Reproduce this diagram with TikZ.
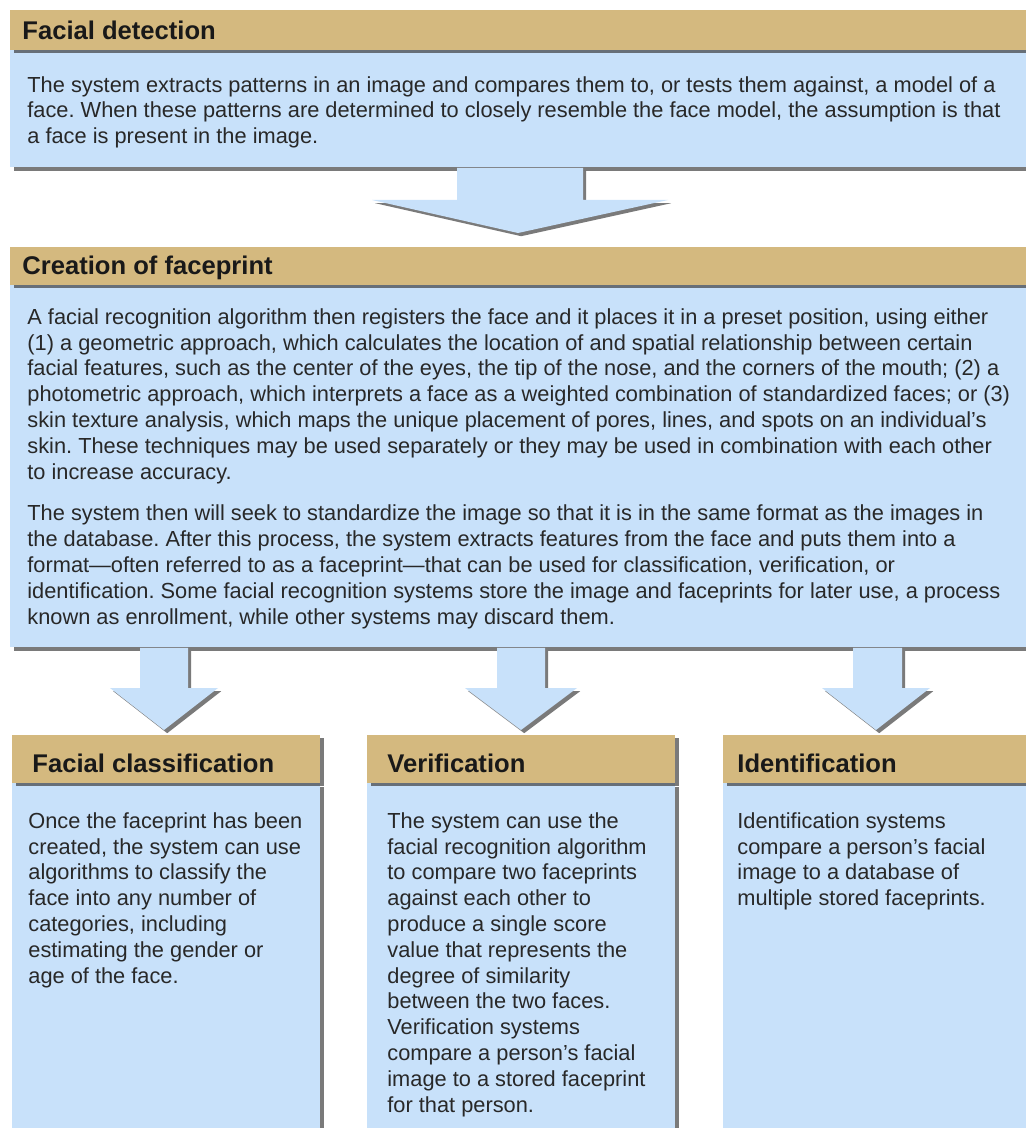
\documentclass[tikz,border=0pt]{standalone}
\usepackage{fontspec}
\setmainfont{Liberation Sans}
\usetikzlibrary{positioning,calc,shadows}
\frenchspacing

\definecolor{headtan}{RGB}{212,185,127}
\definecolor{bodyblue}{RGB}{200,225,250}
\definecolor{inktext}{RGB}{40,40,40}

\tikzset{
  boxshadow/.style={drop shadow={shadow xshift=1.6pt,shadow yshift=-1.6pt,fill=black!80,opacity=.65}},
  bodybox/.style={fill=bodyblue,inner sep=0pt,boxshadow},
  headbar/.style={fill=headtan,inner sep=0pt,boxshadow},
  titletext/.style={font=\bfseries\fontsize{12.8}{15}\selectfont,text=black!90,anchor=base west,inner sep=0pt},
  bodytext/.style={font=\fontsize{10.9}{12.9}\selectfont,text=inktext,align=left,anchor=north west,inner sep=0pt},
  arrowfill/.style={fill=bodyblue,boxshadow}
}

\begin{document}
\begin{tikzpicture}[x=0.5pt,y=-0.5pt]
  \useasboundingbox (0,0) rectangle (1026,1128);
  \clip (0,0) rectangle (1026,1128);
  \fill[white] (0,0) rectangle (1026,1128);

  % facial detection
  \node[bodybox,anchor=north west,minimum width=515pt,minimum height=58.5pt] (detect) at (10,50) {};
  \node[headbar,minimum width=515pt,minimum height=20pt,above=0pt of detect] (detecthead) {};
  \node[titletext] (detecttitle) at ($(detecthead.north west)+(12,30)$) {Facial detection};
  \node[bodytext] (detecttext) at ($(detect.north west)+(17,26)$) {The system extracts patterns in an image and compares them to, or tests them against, a model of a\\
face. When these patterns are determined to closely resemble the face model, the assumption is that\\
a face is present in the image.};

  % creation of faceprint
  \node[bodybox,anchor=north west,minimum width=515pt,minimum height=181pt] (create) at (10,285) {};
  \node[headbar,minimum width=515pt,minimum height=19pt,above=0pt of create] (createhead) {};
  \node[titletext] (createtitle) at ($(createhead.north west)+(12,28)$) {Creation of faceprint};
  \node[bodytext] (createtext) at ($(create.north west)+(17,23)$) {A facial recognition algorithm then registers the face and it places it in a preset position, using either\\
(1) a geometric approach, which calculates the location of and spatial relationship between certain\\
facial features, such as the center of the eyes, the tip of the nose, and the corners of the mouth; (2) a\\
photometric approach, which interprets a face as a weighted combination of standardized faces; or (3)\\
skin texture analysis, which maps the unique placement of pores, lines, and spots on an individual’s\\
skin. These techniques may be used separately or they may be used in combination with each other\\
to increase accuracy.\\[8pt]
The system then will seek to standardize the image so that it is in the same format as the images in\\
the database. After this process, the system extracts features from the face and puts them into a\\
format—often referred to as a faceprint—that can be used for classification, verification, or\\
identification. Some facial recognition systems store the image and faceprints for later use, a process\\
known as enrollment, while other systems may discard them.};

  % facial classification
  \node[bodybox,anchor=north west,minimum width=154pt,minimum height=178.5pt] (classify) at (12,783) {};
  \node[headbar,minimum width=154pt,minimum height=24pt,above=0pt of classify] (classifyhead) {};
  \node[titletext] (classifytitle) at ($(classifyhead.north west)+(20,38)$) {Facial classification};
  \node[bodytext] (classifytext) at ($(classify.north west)+(16,29)$) {Once the faceprint has been\\
created, the system can use\\
algorithms to classify the\\
face into any number of\\
categories, including\\
estimating the gender or\\
age of the face.};

  % verification
  \node[bodybox,anchor=north west,minimum width=154pt,minimum height=178.5pt] (verify) at (367,783) {};
  \node[headbar,minimum width=154pt,minimum height=24pt,above=0pt of verify] (verifyhead) {};
  \node[titletext] (verifytitle) at ($(verifyhead.north west)+(20,38)$) {Verification};
  \node[bodytext] (verifytext) at ($(verify.north west)+(20,29)$) {The system can use the\\
facial recognition algorithm\\
to compare two faceprints\\
against each other to\\
produce a single score\\
value that represents the\\
degree of similarity\\
between the two faces.\\
Verification systems\\
compare a person’s facial\\
image to a stored faceprint\\
for that person.};

  % identification
  \node[bodybox,anchor=north west,minimum width=160pt,minimum height=178.5pt] (identify) at (723,783) {};
  \node[headbar,minimum width=160pt,minimum height=24pt,above=0pt of identify] (identifyhead) {};
  \node[titletext] (identifytitle) at ($(identifyhead.north west)+(14,38)$) {Identification};
  \node[bodytext] (identifytext) at ($(identify.north west)+(14,29)$) {Identification systems\\
compare a person’s facial\\
image to a database of\\
multiple stored faceprints.};

  % block arrows
  \coordinate (tipone) at (518,233);
  \coordinate (tipclassify) at (164,730);
  \coordinate (tipverify) at (521,730);
  \coordinate (tipidentify) at (876,730);

  \fill[arrowfill] (457,0 |- detect.south) -- (583,0 |- detect.south) -- (583,200) -- (668,200) -- (tipone) -- (372,200) -- (457,200) -- cycle;
  \fill[arrowfill] (140,0 |- create.south) -- (188,0 |- create.south) -- (188,688) -- (218,688) -- (tipclassify) -- (110,688) -- (140,688) -- cycle;
  \fill[arrowfill] (497,0 |- create.south) -- (545,0 |- create.south) -- (545,688) -- (577,688) -- (tipverify) -- (465,688) -- (497,688) -- cycle;
  \fill[arrowfill] (853,0 |- create.south) -- (902,0 |- create.south) -- (902,688) -- (930,688) -- (tipidentify) -- (822,688) -- (853,688) -- cycle;
\end{tikzpicture}
\end{document}
